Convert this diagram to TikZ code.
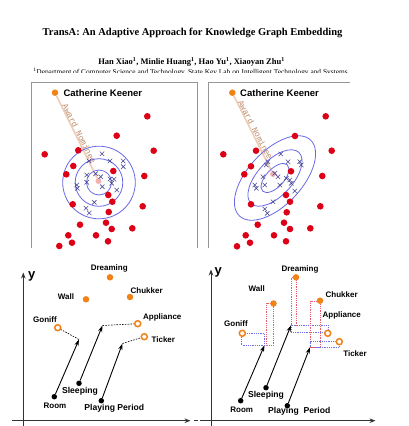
\documentclass[tikz,border=0pt]{standalone}
\usepackage{fontspec}
\setmainfont{Liberation Serif}
\setsansfont{Liberation Sans}
\newfontfamily\monofnt{Liberation Mono}
\usetikzlibrary{arrows.meta}
\definecolor{reddot}{RGB}{222,0,22}
\definecolor{orangec}{RGB}{240,130,24}
\definecolor{ellcol}{RGB}{105,105,230}
\definecolor{xcol}{RGB}{70,70,150}
\definecolor{nomline}{RGB}{238,205,182}
\definecolor{nomtext}{RGB}{190,140,110}
\definecolor{pinkc}{RGB}{242,178,178}
\definecolor{framegray}{RGB}{150,150,150}
\definecolor{reddash}{RGB}{232,90,110}
\definecolor{bluedash}{RGB}{110,110,232}
\begin{document}
\begin{tikzpicture}[x=1pt,y=-1pt,
  odot/.style={circle, fill=orangec, inner sep=0pt, minimum size=6.5pt},
  oring/.style={circle, draw=orangec, line width=1.5pt, fill=white, inner sep=0pt, minimum size=6pt},
  bdot/.style={circle, fill=black, inner sep=0pt, minimum size=5.5pt},
  pdot/.style={circle, fill=pinkc, inner sep=0pt, minimum size=6pt},
  lab/.style={font=\sffamily\bfseries\fontsize{8}{9}\selectfont, inner sep=0pt},
  biglab/.style={font=\sffamily\bfseries\fontsize{8.6}{10}\selectfont, inner sep=0pt},
  cklab/.style={font=\sffamily\bfseries\fontsize{9.5}{11}\selectfont, inner sep=0pt, anchor=west},
  ylab/.style={font=\sffamily\bfseries\fontsize{13}{14}\selectfont, inner sep=0pt},
  nomlab/.style={font=\monofnt\fontsize{8.4}{9}\selectfont, text=nomtext, inner sep=0pt},
  frame/.style={draw=framegray, line width=0.9pt},
  ell/.style={draw=ellcol, line width=0.8pt},
  xm/.style={draw=xcol, line width=0.6pt},
  vec/.style={-{Stealth[length=6.5pt,width=4.2pt]}, line width=0.9pt},
  dsh/.style={dash pattern=on 1.6pt off 1.2pt, line width=0.6pt},
  rdsh/.style={draw=reddash, dash pattern=on 0.9pt off 0.9pt, line width=0.7pt},
  bdsh/.style={draw=bluedash, dash pattern=on 0.9pt off 0.9pt, line width=0.7pt},
  axis/.style={line width=0.8pt, draw=black!80, -{Stealth[length=6pt,width=4.5pt]}}]
\useasboundingbox (0,0) rectangle (408,426);
\fill[white] (0,0) rectangle (408,426);

% ---- header ----
\node[font=\bfseries\fontsize{10.5}{12}\selectfont, inner sep=0pt] (title) at (192.5,33)
  {TransA: An Adaptive Approach for Knowledge Graph Embedding};
\node[font=\bfseries\fontsize{8.5}{10}\selectfont, inner sep=0pt] (authors) at (191.5,62)
  {Han Xiao\textsuperscript{1}, Minlie Huang\textsuperscript{1}, Hao Yu\textsuperscript{1}, Xiaoyan Zhu\textsuperscript{1}};
\begin{scope}
  \clip (0,0) rectangle (408,72.5);
  \node[anchor=base, font=\fontsize{7.4}{8}\selectfont, inner sep=0pt] (affil) at (190.5,74.2)
    {\textsuperscript{1}Department of Computer Science and Technology, State Key Lab on Intelligent Technology and Systems};
\end{scope}

% ---- top-left panel ----
\draw[frame] (31.5,248) -- (31.5,82) -- (197,82) -- (197,248);
\node[pdot] (pk1) at (98.5,181) {};
\node[odot] (ck1) at (55,92.7) {};
\draw[draw=nomline, line width=1.6pt] (ck1) -- (pk1);
\node[nomlab, rotate=-63.5] (nom1) at (79.5,133.5) {Award Nominee};
\node[cklab] (ckl1) at (63.3,93) {Catherine Keener};
\draw[ell] (99,182.5) circle (36.3pt);
\draw[ell] (99,182.5) circle (23.8pt);
\draw[ell] (99,182.5) circle (12.5pt);
\foreach \x/\y in {102/153.7,89/161,110/161,123.3/161,123.3/166.7,86.7/175,95.7/173.7,100.7/176.7,
  110/179,114/179.3,111.7/183.3,86.7/182.3,76.7/185,77.3/188.3,102.3/186.7,116.7/190,94.3/202.3,86/208.3,89.3/213}
  \draw[xm] (\x,\y) +(-2.2,-2.2) -- +(2.2,2.2) +(-2.2,2.2) -- +(2.2,-2.2);
\foreach \x/\y in {147.3/116.3,116.7/135.7,44.7/154.3,78.3/150.3,153.7/150.7,73.3/166,66.3/174.3,113.3/171,
  144.3/176,108.3/195,112.3/201.7,72.7/204.3,142.7/206.3,108.7/212,80/224.7,106/222.7,111.7/229,132.3/228.3,
  68.3/235.3,96/235.3,72/242.7,108/241.3,59.3/246}
  \fill[reddot] (\x,\y) circle (3.3pt);

% ---- top-right panel ----
\draw[frame] (208.3,248) -- (208.3,82) -- (350,82);
\node[pdot] (pk2) at (273,174) {};
\node[odot] (ck2) at (232.3,92.7) {};
\draw[draw=nomline, line width=1.6pt] (ck2) -- (pk2);
\node[nomlab, rotate=-62.5] (nom2) at (255.5,130) {Award Nominee};
\node[cklab] (ckl2) at (240,93) {Catherine Keener};
\draw[ell, rotate around={47:(275,178)}] (275,178) ellipse (52pt and 27pt);
\draw[ell, rotate around={47:(275,178)}] (275,178) ellipse (35pt and 17.5pt);
\draw[ell, rotate around={47:(275,178)}] (275,178) ellipse (18pt and 9pt);
\foreach \x/\y in {280.7/154,288/161.7,299.7/161.7,301.3/165,268/161.7,266.3/165,274.7/173.3,278/176.7,
  263/176.7,254.7/185,256.3/188.3,264.7/185,279.7/185,286.3/178.3,289.7/180,291.3/183.3,294.7/191,273/201.7,264.7/209,267.3/213.3}
  \draw[xm] (\x,\y) +(-2.2,-2.2) -- +(2.2,2.2) +(-2.2,2.2) -- +(2.2,-2.2);
\foreach \x/\y in {325.7/116.3,295/136,223.3/154.3,256/150.7,331.7/150.7,251/166.3,244.3/174.3,291/171.3,
  322.3/176,286/195,290/201.7,251/204.3,320.3/206.3,286.7/212.3,257.7/224.7,284/222.7,290/229,310.3/228.3,
  245.7/235.3,274/235.3,250/242.7,286/241.3,237/246.3}
  \fill[reddot] (\x,\y) circle (3.3pt);

% ---- bottom-left panel ----
\coordinate (ybot1) at (23.3,426);
\coordinate (ytop1) at (23.3,272.5);
\coordinate (xl1) at (11.7,420.7);
\coordinate (xr1) at (190.5,420.7);
\draw[axis] (ybot1) -- (ytop1);
\draw[axis] (xl1) -- (xr1);
\coordinate (xd1) at (193.5,420.7);
\coordinate (xd2) at (197.5,420.7);
\draw[line width=0.8pt, black!80] (xd1) -- (xd2);
\node[ylab] (y1) at (31.7,276) {y};

\node[odot] (dr1) at (110,277.3) {};
\node[odot] (wa1) at (86,299.3) {};
\node[odot] (ch1) at (130,297) {};
\node[oring] (go1) at (57.7,327.7) {};
\node[oring] (ap1) at (137.7,323.7) {};
\node[oring] (ti1) at (144.3,336.7) {};
\node[bdot] (ro1) at (54.3,396.7) {};
\node[bdot] (sl1) at (79,383.3) {};
\node[bdot] (pp1) at (101.3,400.7) {};
\node[lab] (ldr1) at (109.3,268.3) {Dreaming};
\node[lab] (lwa1) at (66,296.7) {Wall};
\node[lab] (lch1) at (146.7,291) {Chukker};
\node[lab] (lgo1) at (45,319.3) {Goniff};
\node[lab] (lap1) at (162.3,317.7) {Appliance};
\node[lab] (lti1) at (163.3,339.7) {Ticker};
\node[lab] (lro1) at (55,405.7) {Room};
\node[biglab] (lsl1) at (80,391.7) {Sleeping};
\node[biglab] (lpp1) at (114.3,408.7) {Playing Period};
\coordinate (a1) at (79,339.5);
\coordinate (a2) at (102.5,325.5);
\coordinate (a3) at (122.5,343.5);
\draw[vec] (ro1) -- (a1);
\draw[vec] (sl1) -- (a2);
\draw[vec] (pp1) -- (a3);
\draw[dsh] (a1) -- (go1);
\draw[dsh] (a2) -- (ap1);
\draw[dsh] (a3) -- (ti1);

% ---- bottom-right panel ----
\coordinate (ybot2) at (211,426);
\coordinate (ytop2) at (211,269.5);
\coordinate (xl2) at (200,420.7);
\coordinate (xr2) at (375.5,420.7);
\draw[axis] (ybot2) -- (ytop2);
\draw[axis] (xl2) -- (xr2);
\node[ylab] (y2) at (218.3,272.5) {y};

\coordinate (b1) at (264.5,345.3);
\coordinate (b2) at (291,325.3);
\coordinate (b3) at (310,347.3);
% projection boxes
\coordinate (gb1) at (241.7,333.5);
\coordinate (rw1) at (266,303.3);
\coordinate (rw2) at (273.3,345.3);
\draw[bdsh] (gb1) rectangle (b1);
\draw[rdsh] (rw1) rectangle (rw2);
\coordinate (rd1) at (296,277.3);
\draw[rdsh] (b2) rectangle (rd1);
\coordinate (ba1) at (328,332.3);
\draw[bdsh] (b2) rectangle (ba1);
\coordinate (rc1) at (320,301);
\draw[rdsh] (b3) rectangle (rc1);
\coordinate (bt1) at (339.3,341.5);
\draw[bdsh] (b3) rectangle (bt1);

\node[odot] (dr2) at (296,277.3) {};
\node[odot] (wa2) at (273.5,303.5) {};
\node[odot] (ch2) at (320,300.7) {};
\node[oring] (go2) at (242.3,333.3) {};
\node[oring] (ap2) at (327.7,333.3) {};
\node[oring] (ti2) at (339.3,341.7) {};
\node[bdot] (ro2) at (240.7,400.7) {};
\node[bdot] (sl2) at (266,387.7) {};
\node[bdot] (pp2) at (287.3,405.7) {};
\node[lab] (ldr2) at (300,269) {Dreaming};
\node[lab] (lwa2) at (256.7,288.3) {Wall};
\node[lab] (lch2) at (341.7,294.3) {Chukker};
\node[lab] (lgo2) at (236,324) {Goniff};
\node[lab] (lap2) at (341.7,315.7) {Appliance};
\node[lab] (lti2) at (355,353.3) {Ticker};
\node[lab] (lro2) at (241.7,410) {Room};
\node[biglab] (lsl2) at (266,395) {Sleeping};
\node[biglab] (lpp2) at (299.3,411.7) {Playing\ \ Period};
\draw[vec] (ro2) -- (b1);
\draw[vec] (sl2) -- (b2);
\draw[vec] (pp2) -- (b3);
\end{tikzpicture}
\end{document}
